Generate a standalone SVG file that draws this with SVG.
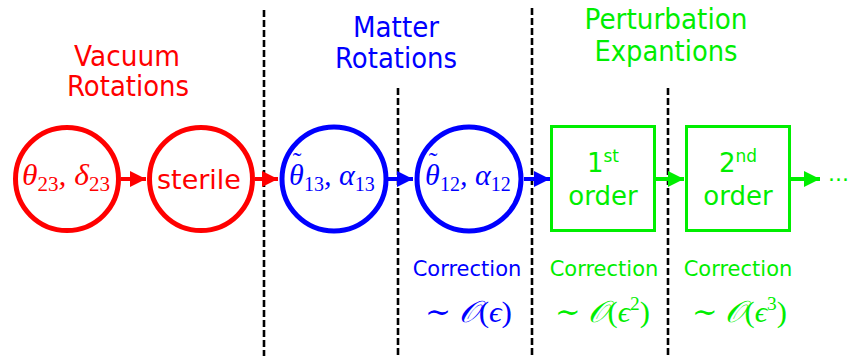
<svg xmlns="http://www.w3.org/2000/svg" width="851" height="356" viewBox="0 0 851 356">
<defs>
<style>
.sans{font-family:"DejaVu Sans","Liberation Sans",sans-serif;}
.math{font-family:"Liberation Serif","DejaVu Serif",serif;font-style:italic;}
.up{font-style:normal;}
.red{fill:#ff0000;}
.blue{fill:#0000ff;}
.green{fill:#00ee00;}
.title{font-size:28px;text-anchor:middle;}
.corr{font-size:21px;text-anchor:middle;}
.order{font-size:26px;text-anchor:middle;}
.big{font-size:30px;}
.tl{font-style:normal;font-size:26px;}
.div{stroke:#000;stroke-width:2.6;stroke-dasharray:7 3;fill:none;}
.circ{fill:#fff;stroke-width:5;}
.box{fill:#fff;stroke:#00ee00;stroke-width:3;}
.arr{stroke-width:4;fill:none;}
</style>
<marker id="ahR" markerWidth="4" markerHeight="4" refX="3" refY="1.5" orient="auto" markerUnits="strokeWidth" viewBox="0 0 3 3"><path d="M0,0 L3,1.5 L0,3 Z" fill="#ff0000"/></marker>
<marker id="ahB" markerWidth="4" markerHeight="4" refX="3" refY="1.5" orient="auto" markerUnits="strokeWidth" viewBox="0 0 3 3"><path d="M0,0 L3,1.5 L0,3 Z" fill="#0000ff"/></marker>
<marker id="ahG" markerWidth="4" markerHeight="4" refX="3" refY="1.5" orient="auto" markerUnits="strokeWidth" viewBox="0 0 3 3"><path d="M0,0 L3,1.5 L0,3 Z" fill="#00ee00"/></marker>
</defs>
<rect width="851" height="356" fill="#fff"/>

<g id="dividers">
<line class="div" x1="264" y1="10" x2="264" y2="356"/>
<line class="div" x1="398" y1="88" x2="398" y2="356"/>
<line class="div" x1="532" y1="8" x2="532" y2="356"/>
<line class="div" x1="668" y1="88" x2="668" y2="356"/>
</g>

<g id="titles">
<text class="sans title red" x="127" y="66" textLength="106" lengthAdjust="spacingAndGlyphs">Vacuum</text>
<text class="sans title red" x="128" y="96" textLength="122" lengthAdjust="spacingAndGlyphs">Rotations</text>
<text class="sans title blue" x="396" y="37" textLength="86" lengthAdjust="spacingAndGlyphs">Matter</text>
<text class="sans title blue" x="396" y="68" textLength="122" lengthAdjust="spacingAndGlyphs">Rotations</text>
<text class="sans title green" x="666" y="29" textLength="163" lengthAdjust="spacingAndGlyphs">Perturbation</text>
<text class="sans title green" x="666" y="61" textLength="143" lengthAdjust="spacingAndGlyphs">Expantions</text>
</g>

<g id="connectors">
<line class="arr" stroke="#ff0000" x1="121" y1="179" x2="146" y2="179" marker-end="url(#ahR)"/>
<line class="arr" stroke="#ff0000" x1="255" y1="179" x2="278" y2="179" marker-end="url(#ahR)"/>
<line class="arr" stroke="#0000ff" x1="388" y1="179" x2="413" y2="179" marker-end="url(#ahB)"/>
<line class="arr" stroke="#0000ff" x1="524" y1="179" x2="550" y2="179" marker-end="url(#ahB)"/>
<line class="arr" stroke="#00ee00" x1="656" y1="179" x2="684" y2="179" marker-end="url(#ahG)"/>
<line class="arr" stroke="#00ee00" x1="791" y1="179" x2="820" y2="179" marker-end="url(#ahG)"/>
</g>

<g id="n-theta23">
<circle class="circ" stroke="#ff0000" cx="67" cy="179" r="51.5"/>
<text class="math big red" x="22" y="185" textLength="88" lengthAdjust="spacingAndGlyphs">θ<tspan class="up" font-size="20" dy="6">23</tspan><tspan dy="-6">, δ</tspan><tspan class="up" font-size="20" dy="6">23</tspan></text>
</g>

<g id="n-sterile">
<circle class="circ" stroke="#ff0000" cx="201" cy="179" r="51.5"/>
<text class="sans red" x="199" y="189" font-size="27" text-anchor="middle">sterile</text>
</g>

<g id="n-theta13">
<circle class="circ" stroke="#0000ff" cx="334" cy="179" r="52"/>
<text class="math big blue" x="289" y="185">θ<tspan class="tl" dx="-11" dy="-15">˜</tspan><tspan class="up" font-size="20" dx="2.5" dy="21">13</tspan><tspan dy="-6">, α</tspan><tspan class="up" font-size="20" dy="6">13</tspan></text>
</g>

<g id="n-theta12">
<circle class="circ" stroke="#0000ff" cx="469" cy="179" r="52"/>
<text class="math big blue" x="425" y="185">θ<tspan class="tl" dx="-11" dy="-15">˜</tspan><tspan class="up" font-size="20" dx="2.5" dy="21">12</tspan><tspan dy="-6">, α</tspan><tspan class="up" font-size="20" dy="6">12</tspan></text>
</g>

<g id="n-first">
<rect class="box" x="551.5" y="126.5" width="103" height="104"/>
<text class="sans order green" x="603" y="172">1<tspan font-size="17" dy="-10">st</tspan></text>
<text class="sans order green" x="603" y="205">order</text>
</g>

<g id="n-second">
<rect class="box" x="686.5" y="126.5" width="103" height="104"/>
<text class="sans order green" x="738" y="172">2<tspan font-size="17" dy="-10">nd</tspan></text>
<text class="sans order green" x="738" y="205">order</text>
</g>

<g id="ellipsis">
<text class="sans green" x="828" y="181" font-size="22">...</text>
</g>

<g id="corrections">
<text class="sans corr blue" x="467" y="276">Correction</text>
<text class="sans corr green" x="604" y="276">Correction</text>
<text class="sans corr green" x="738" y="276">Correction</text>
<text class="math big blue" x="425" y="322" textLength="87" lengthAdjust="spacingAndGlyphs"><tspan class="up">∼ </tspan>𝒪<tspan class="up">(</tspan>ϵ<tspan class="up">)</tspan></text>
<text class="math big green" x="555" y="322" textLength="95" lengthAdjust="spacingAndGlyphs"><tspan class="up">∼ </tspan>𝒪<tspan class="up">(</tspan>ϵ<tspan class="up" font-size="19" dy="-12">2</tspan><tspan class="up" dy="12">)</tspan></text>
<text class="math big green" x="692" y="322" textLength="95" lengthAdjust="spacingAndGlyphs"><tspan class="up">∼ </tspan>𝒪<tspan class="up">(</tspan>ϵ<tspan class="up" font-size="19" dy="-12">3</tspan><tspan class="up" dy="12">)</tspan></text>
</g>
</svg>
